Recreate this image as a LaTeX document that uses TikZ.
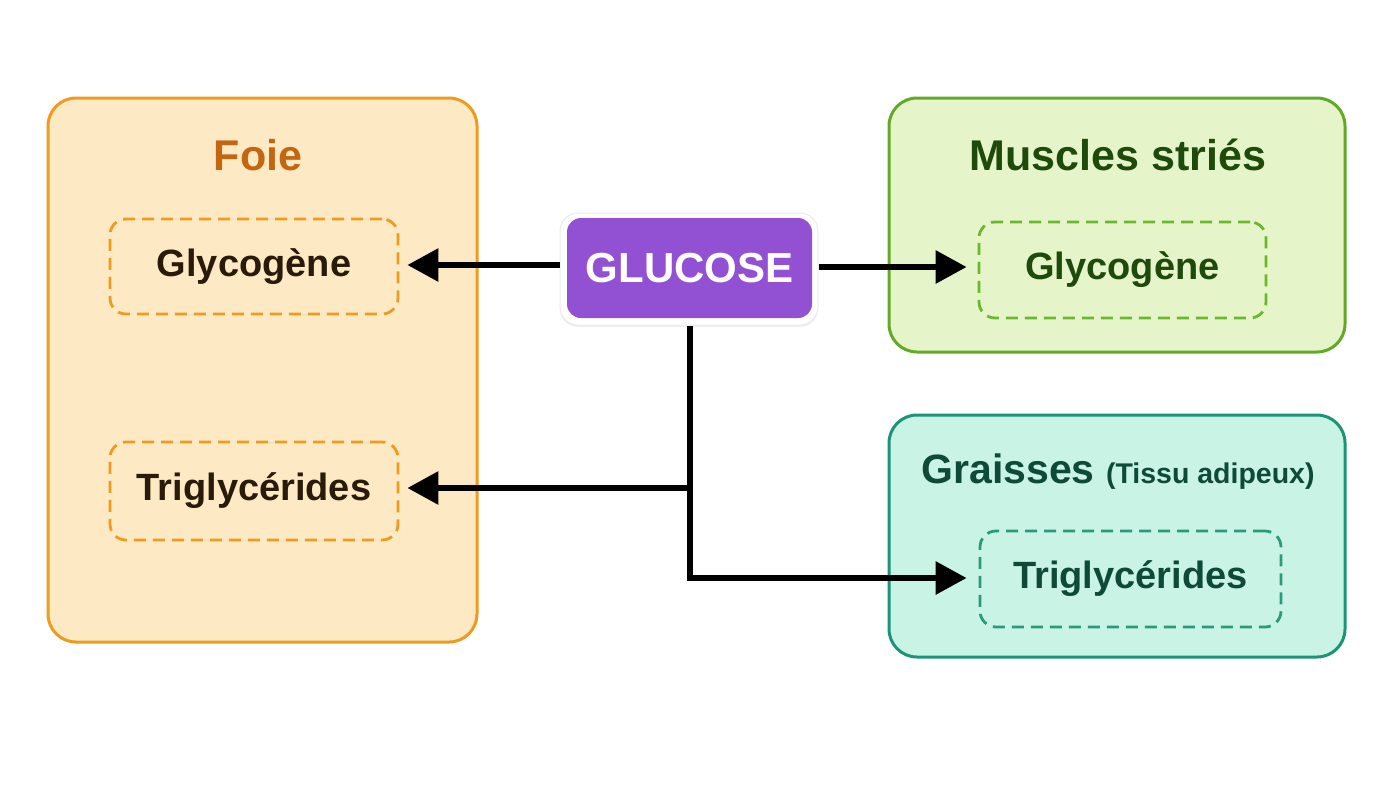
\documentclass[tikz,border=0pt]{standalone}
\usepackage{fontspec}
\setmainfont{Liberation Sans}
\usetikzlibrary{arrows.meta,shadows}
\definecolor{foieFill}{HTML}{FDEAC4}
\definecolor{foieLine}{HTML}{EE9B1E}
\definecolor{foieTitle}{HTML}{C4650F}
\definecolor{foieText}{HTML}{2A1A0A}
\definecolor{musFill}{HTML}{E5F5C9}
\definecolor{musLine}{HTML}{62AA25}
\definecolor{musDash}{HTML}{6BB82E}
\definecolor{musText}{HTML}{1E4A0C}
\definecolor{graFill}{HTML}{C9F3E5}
\definecolor{graLine}{HTML}{1B9478}
\definecolor{graDash}{HTML}{2A9A7A}
\definecolor{graText}{HTML}{0F4A39}
\definecolor{gluFill}{HTML}{9250D2}
\begin{document}
\begin{tikzpicture}[x=1pt,y=-1pt,
  organ/.style={draw, line width=3pt, rounded corners=28pt, inner sep=0pt},
  store/.style={draw, line width=2.8pt, dash pattern=on 12pt off 7pt, rounded corners=16pt, inner sep=0pt, font=\fontsize{38}{40}\selectfont\bfseries},
  title/.style={inner sep=0pt, font=\fontsize{43}{46}\selectfont\bfseries},
  conn/.style={line width=6pt, -{Triangle[length=31pt,width=32pt]}},
  plain/.style={line width=6pt}
]
\useasboundingbox (0,0) rectangle (1400,788);
\fill[white] (0,0) rectangle (1400,788);

% organ boxes
\node[organ, draw=foieLine, fill=foieFill, minimum width=429pt, minimum height=544pt] (foie) at (262.5,370) {};
\node[organ, draw=musLine, fill=musFill, minimum width=456pt, minimum height=254pt] (muscle) at (1117,225) {};
\node[organ, draw=graLine, fill=graFill, minimum width=456pt, minimum height=242pt] (graisse) at (1117,536) {};

% titles
\node[title, text=foieTitle] (tfoie) at (258,155) {Foie};
\node[title, text=musText] (tmus) at (1118,155) {Muscles striés};
\node[title, text=graText, font=\fontsize{41}{44}\selectfont\bfseries] (tgra) at (1118,472) {Graisses {\fontsize{28.5}{30}\selectfont(Tissu adipeux)}};

% stores
\node[store, draw=foieLine, text=foieText, minimum width=288pt, minimum height=95pt] (fglyc) at (254,266.5) {Glycogène};
\node[store, draw=foieLine, text=foieText, minimum width=288pt, minimum height=98pt] (ftri) at (254,491) {Triglycérides};
\node[store, draw=musDash, text=musText, minimum width=287pt, minimum height=96pt] (mglyc) at (1122.5,270) {Glycogène};
\node[store, draw=graDash, text=graText, minimum width=301pt, minimum height=96pt] (gtri) at (1130.5,579) {Triglycérides};

% glucose
\node[fill=white, draw=black!8, line width=1pt, rounded corners=18pt, minimum width=258pt, minimum height=112pt, inner sep=0pt,
      drop shadow={opacity=0.12, shadow xshift=0pt, shadow yshift=-2pt}] (gluout) at (689,269) {};
\node[fill=gluFill, rounded corners=14pt, minimum width=245pt, minimum height=100pt, inner sep=0pt,
      text=white, font=\fontsize{42}{44}\selectfont\bfseries] (glu) at (689.5,268) {GLUCOSE};

% connectors
\coordinate (junc) at (690,488);
\coordinate (corner) at (690,578);
\draw[conn, shorten >=8pt] (gluout.west |- 0,265) -- (fglyc.east |- 0,265);
\draw[conn, shorten >=11pt] (gluout.east |- 0,267) -- (mglyc.west |- 0,267);
\draw[plain] (gluout.south -| junc) -- (corner);
\draw[conn, shorten >=12pt] ([xshift=-3pt]corner) -- (gtri.west |- corner);
\draw[conn, shorten >=8pt] ([xshift=3pt]junc) -- (ftri.east |- junc);
\end{tikzpicture}
\end{document}
